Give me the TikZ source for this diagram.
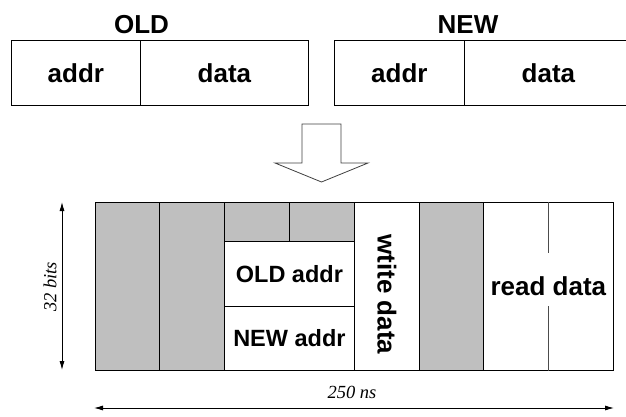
\documentclass[tikz,border=0pt]{standalone}
\usepackage{fontspec}
\setmainfont{Liberation Serif}
\setsansfont{Liberation Sans}
\usetikzlibrary{arrows.meta}
\definecolor{slotgray}{HTML}{BFBFBF}
\begin{document}
\begin{tikzpicture}[x=1pt,y=-1pt,
  cell/.style={draw=black, line width=0.8pt, inner sep=0pt, anchor=north west,
    font=\sffamily\bfseries\fontsize{26}{29}\selectfont},
  smallcell/.style={cell, font=\sffamily\bfseries\fontsize{23.5}{26}\selectfont},
  busy/.style={cell, fill=slotgray},
  title/.style={inner sep=0pt, anchor=base, font=\sffamily\bfseries\fontsize{26}{29}\selectfont},
  dimlabel/.style={inner sep=0pt, font=\itshape\fontsize{18.5}{21}\selectfont},
  dimarrow/.style={line width=0.8pt, {Latex[length=9pt,width=5pt]}-{Latex[length=9pt,width=5pt]}}]
\useasboundingbox (0,0) rectangle (626,417);

% packet formats
\node[cell, minimum width=129, minimum height=65] (oldA) at (11,40) {addr};
\node[cell, minimum width=168, minimum height=65] (oldD) at (140,40) {data};
\node[title] (oldT) at (141.5,34) {OLD};
\node[cell, minimum width=130, minimum height=65] (newA) at (334,40) {addr};
\node[cell, minimum width=168, minimum height=65] (newD) at (464,40) {data};
\node[title] (newT) at (468,34) {NEW};

% hollow transition arrow
\draw[line width=0.8pt, draw=black!75, fill=white]
  (302,124) -- (341,124) -- (341,163) -- (368,163) -- (321.5,182)
  -- (275,163) -- (302,163) -- cycle;

% bus timeline
\node[busy, minimum width=64, minimum height=168] (g1) at (95,202) {};
\node[busy, minimum width=65, minimum height=168] (g2) at (159,202) {};
\node[busy, minimum width=65, minimum height=39] (g3) at (224,202) {};
\node[busy, minimum width=65, minimum height=39] (g4) at (289,202) {};
\node[smallcell, minimum width=130, minimum height=65] (oaddr) at (224,241) {OLD addr};
\node[smallcell, minimum width=130, minimum height=64] (naddr) at (224,306) {NEW addr};
\node[cell, minimum width=65, minimum height=168] (wdata) at (354,202) {};
\node[inner sep=0pt, rotate=-90, font=\sffamily\bfseries\fontsize{26}{29}\selectfont]
  (wlabel) at ([yshift=-8pt]wdata.center) {wtite data};
\node[busy, minimum width=64, minimum height=168] (g5) at (419,202) {};
\node[cell, minimum width=130, minimum height=168] (rdata) at (483,202) {read data};
\draw[line width=0.8pt, draw=black!70] (rdata.north) -- ++(0,51);
\draw[line width=0.8pt, draw=black!70] (rdata.south) -- ++(0,-65);

% dimensions
\coordinate (vtop) at (62,202);
\coordinate (vbot) at (62,370);
\draw[dimarrow] (vtop) -- (vbot);
\node[dimlabel, rotate=90] (bits) at (50,287) {32 bits};
\coordinate (hleft) at (94,408);
\coordinate (hright) at (614,408);
\draw[dimarrow] (hleft) -- (hright);
\node[dimlabel] (ns) at (352,392) {250 ns};
\end{tikzpicture}
\end{document}
